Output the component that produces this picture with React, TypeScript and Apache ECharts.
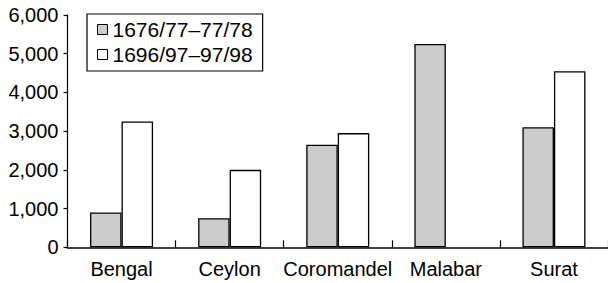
import React, { useEffect, useRef } from "react";
import * as echarts from "echarts";

const categories = ["Bengal", "Ceylon", "Coromandel", "Malabar", "Surat"];
const seriesNames = ["1676/77\u201377/78", "1696/97\u201397/98"];
const values1676 = [900, 750, 2650, 5250, 3100];
const values1696: (number | null)[] = [3250, 2000, 2950, null, 4550];
const yTicks = { min: 0, max: 6000, interval: 1000 };

const FONT = "'Liberation Sans', Arial, Helvetica, sans-serif";

export default function App() {
  const ref = useRef<HTMLDivElement>(null);
  useEffect(() => {
    if (!ref.current) return;
    const chart = echarts.init(ref.current, null, { renderer: "svg" });
    chart.setOption({
      animation: false,
      textStyle: { fontFamily: FONT, color: "#000" },
      legend: {
        orient: "vertical",
        left: 87,
        top: 14,
        borderColor: "#000",
        borderWidth: 1.2,
        padding: [5, 10, 6, 10],
        itemGap: 4,
        itemWidth: 10,
        itemHeight: 10,
        itemTextGap: 8,
        icon: "rect",
        textStyle: { fontFamily: FONT, fontSize: 21, color: "#000" },
        itemStyle: { borderColor: "#000", borderWidth: 1 },
        data: seriesNames,
      },
      grid: { left: 67.5, top: 15, bottom: 35.7, width: 546.5 },
      xAxis: {
        type: "category",
        data: categories,
        boundaryGap: true,
        axisLine: { lineStyle: { color: "#000", width: 1.5 } },
        axisTick: { show: true, inside: true, length: 7, lineStyle: { color: "#000", width: 1.2 } },
        axisLabel: { color: "#000", fontSize: 20, fontFamily: FONT, margin: 12, interval: 0 },
      },
      yAxis: {
        type: "value",
        min: yTicks.min,
        max: yTicks.max,
        interval: yTicks.interval,
        axisLine: { show: true, lineStyle: { color: "#000", width: 1.2 } },
        axisTick: { show: true, inside: false, length: 4, lineStyle: { color: "#000", width: 1.2 } },
        splitLine: { show: false },
        axisLabel: {
          color: "#000",
          fontSize: 20,
          fontFamily: FONT,
          margin: 9,
          formatter: (v: number) => v.toLocaleString("en-US"),
        },
      },
      series: [
        {
          name: seriesNames[0],
          type: "bar",
          data: values1676,
          barWidth: 31.5,
          barGap: "0%",
          itemStyle: { color: "#cccccc", borderColor: "#000", borderWidth: 1.3 },
        },
        {
          name: seriesNames[1],
          type: "bar",
          data: values1696,
          barWidth: 31.5,
          barGap: "0%",
          itemStyle: { color: "#ffffff", borderColor: "#000", borderWidth: 1.3 },
        },
      ],
    });
    return () => chart.dispose();
  }, []);
  return (
    <div
      ref={ref}
      style={{ position: "fixed", left: 0, top: 0, width: 608, height: 283, background: "#fff" }}
    />
  );
}
